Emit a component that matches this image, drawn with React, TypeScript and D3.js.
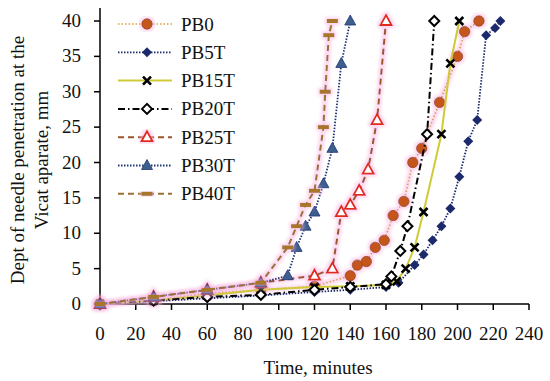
import { useEffect, useRef } from 'react';
import * as d3 from 'd3';

// time (minutes) and needle penetration depth (mm) per mix
const pb0Time = [0, 30, 60, 90, 120, 140, 144, 149, 154, 159, 164, 170, 175, 180, 190, 200, 204, 212];
const pb0Depth = [0, 0.5, 1.5, 2, 2.5, 4, 5.5, 6, 8, 9, 12.5, 14.5, 20, 22, 28.5, 35, 38.5, 40];

const pb5tTime = [0, 30, 60, 90, 120, 140, 160, 167, 176, 181, 186, 191, 196, 201, 206, 211, 216, 221, 224];
const pb5tDepth = [0, 0.4, 0.8, 1.2, 1.7, 2, 2.4, 3, 5.5, 7, 9, 11, 13.5, 18, 23, 26, 38, 39, 40];

const pb15tTime = [0, 30, 60, 90, 120, 140, 160, 166, 171, 176, 181, 191, 196, 201];
const pb15tDepth = [0, 0.5, 1.2, 2, 2.4, 2.5, 2.7, 3.2, 5, 8, 13, 24, 34, 40];

const pb20tTime = [0, 30, 60, 90, 120, 140, 160, 163, 168, 172, 183, 187];
const pb20tDepth = [0, 0.5, 1, 1.3, 2, 2.4, 2.8, 3.9, 7.5, 11, 24, 40];

const pb25tTime = [0, 30, 60, 90, 120, 130, 135, 140, 145, 150, 155, 160];
const pb25tDepth = [0, 1, 2, 3, 4, 5, 13, 14, 16, 19, 26, 40];

const pb30tTime = [0, 30, 60, 90, 105, 110, 115, 120, 125, 130, 135, 140];
const pb30tDepth = [0, 1, 2, 3, 4, 8, 11, 13, 17, 22, 34, 40];

const pb40tTime = [0, 30, 60, 90, 105, 110, 115, 120, 125, 126, 128, 130];
const pb40tDepth = [0, 1, 2, 3, 8, 11, 14, 16, 25, 30, 38, 40];

const xTicks = [0, 20, 40, 60, 80, 100, 120, 140, 160, 180, 200, 220, 240];
const yTicks = [0, 5, 10, 15, 20, 25, 30, 35, 40];

type Marker = 'circle' | 'diamond' | 'x' | 'hollowDiamond' | 'hollowTriangle' | 'triangle' | 'dash';

interface Series {
  name: string;
  time: number[];
  depth: number[];
  color: string;
  dash: string;
  width: number;
  marker: Marker;
  glow: boolean;
}

const series: Series[] = [
  { name: 'PB0', time: pb0Time, depth: pb0Depth, color: '#dca03c', dash: '1.5,2', width: 1.6, marker: 'circle', glow: true },
  { name: 'PB5T', time: pb5tTime, depth: pb5tDepth, color: '#1c2a6c', dash: '1.5,1.5', width: 1.8, marker: 'diamond', glow: false },
  { name: 'PB15T', time: pb15tTime, depth: pb15tDepth, color: '#cfcb38', dash: '', width: 2, marker: 'x', glow: false },
  { name: 'PB20T', time: pb20tTime, depth: pb20tDepth, color: '#000000', dash: '7,3,1.5,3', width: 2, marker: 'hollowDiamond', glow: false },
  { name: 'PB25T', time: pb25tTime, depth: pb25tDepth, color: '#9c5528', dash: '6,4', width: 2, marker: 'hollowTriangle', glow: true },
  { name: 'PB30T', time: pb30tTime, depth: pb30tDepth, color: '#1f3474', dash: '1.5,1.5', width: 1.8, marker: 'triangle', glow: false },
  { name: 'PB40T', time: pb40tTime, depth: pb40tDepth, color: '#9a7230', dash: '6,4', width: 2, marker: 'dash', glow: true },
];

const FONT = '"Liberation Serif", serif';

function drawMarker(g: d3.Selection<SVGGElement, unknown, null, undefined>, kind: Marker, x: number, y: number) {
  if (kind === 'circle') {
    g.append('circle').attr('cx', x).attr('cy', y).attr('r', 5.2)
      .attr('fill', '#c4571c').attr('stroke', '#9a3f12').attr('stroke-width', 0.8);
  } else if (kind === 'diamond') {
    g.append('path').attr('d', `M${x},${y - 5}L${x + 5},${y}L${x},${y + 5}L${x - 5},${y}Z`)
      .attr('fill', '#1c2a6c');
  } else if (kind === 'hollowDiamond') {
    g.append('path').attr('d', `M${x},${y - 5}L${x + 5},${y}L${x},${y + 5}L${x - 5},${y}Z`)
      .attr('fill', '#fff').attr('stroke', '#000').attr('stroke-width', 2);
  } else if (kind === 'x') {
    g.append('path').attr('d', `M${x - 4},${y - 4}L${x + 4},${y + 4}M${x + 4},${y - 4}L${x - 4},${y + 4}`)
      .attr('stroke', '#000').attr('stroke-width', 2.6);
  } else if (kind === 'hollowTriangle') {
    g.append('path').attr('d', `M${x},${y - 6}L${x + 5.5},${y + 4}L${x - 5.5},${y + 4}Z`)
      .attr('fill', '#fff').attr('stroke', '#e02a1e').attr('stroke-width', 1.8);
  } else if (kind === 'triangle') {
    g.append('path').attr('d', `M${x},${y - 6}L${x + 5.5},${y + 4}L${x - 5.5},${y + 4}Z`)
      .attr('fill', '#3d5f8e').attr('stroke', '#1f3474').attr('stroke-width', 0.8);
  } else {
    g.append('rect').attr('x', x - 5.5).attr('y', y - 2).attr('width', 11).attr('height', 4)
      .attr('fill', '#a8762c');
  }
}

export default function App() {
  const svgRef = useRef<SVGSVGElement>(null);

  useEffect(() => {
    if (!svgRef.current) return;
    const svg = d3.select(svgRef.current);
    svg.selectAll('*').remove();

    const x = d3.scaleLinear().domain([0, 240]).range([100, 529]);
    const y = d3.scaleLinear().domain([0, 40]).range([304, 21]);

    // soft pink halo seen round some series in the source image
    const defs = svg.append('defs');
    const glow = defs.append('filter').attr('id', 'glow')
      .attr('x', '-20%').attr('y', '-20%').attr('width', '140%').attr('height', '140%');
    glow.append('feMorphology').attr('in', 'SourceAlpha').attr('operator', 'dilate').attr('radius', 1.5).attr('result', 'thick');
    glow.append('feGaussianBlur').attr('in', 'thick').attr('stdDeviation', 1.5).attr('result', 'blur');
    glow.append('feFlood').attr('flood-color', '#f7b0de').attr('flood-opacity', 0.5);
    glow.append('feComposite').attr('in2', 'blur').attr('operator', 'in').attr('result', 'pink');
    const merge = glow.append('feMerge');
    merge.append('feMergeNode').attr('in', 'pink');
    merge.append('feMergeNode').attr('in', 'SourceGraphic');

    svg.append('rect').attr('width', 550).attr('height', 381).attr('fill', '#fff');

    // axes
    const axis = svg.append('g').attr('stroke', '#000').attr('stroke-width', 1.5);
    axis.append('line').attr('x1', 97).attr('x2', x(240)).attr('y1', y(0)).attr('y2', y(0));
    axis.append('line').attr('x1', x(0)).attr('x2', x(0)).attr('y1', 8).attr('y2', y(0));
    xTicks.forEach(t => {
      axis.append('line').attr('x1', x(t)).attr('x2', x(t)).attr('y1', y(0)).attr('y2', y(0) + 6);
    });
    yTicks.forEach(t => {
      axis.append('line').attr('x1', x(0) - 6).attr('x2', x(0)).attr('y1', y(t)).attr('y2', y(t));
    });

    const labels = svg.append('g').attr('font-family', FONT).attr('font-size', 19).attr('fill', '#111');
    xTicks.forEach(t => {
      labels.append('text').attr('x', x(t)).attr('y', 340).attr('text-anchor', 'middle').text(t);
    });
    yTicks.forEach(t => {
      labels.append('text').attr('x', 81).attr('y', y(t) + 6).attr('text-anchor', 'end').text(t);
    });
    labels.append('text').attr('x', 318).attr('y', 374).attr('text-anchor', 'middle').text('Time, minutes');
    const yl = labels.append('text').attr('transform', 'translate(0,160) rotate(-90)').attr('text-anchor', 'middle');
    yl.append('tspan').attr('x', 0).attr('y', 24).text('Dept of needle penetration at the');
    yl.append('tspan').attr('x', 0).attr('y', 48).text('Vicat aparate, mm');

    // series
    const line = d3.line<[number, number]>().x(d => x(d[0])).y(d => y(d[1]));
    series.forEach(s => {
      const g = svg.append('g');
      if (s.glow) g.attr('filter', 'url(#glow)');
      const pts = s.time.map((t, i) => [t, s.depth[i]] as [number, number]);
      g.append('path').attr('d', line(pts)).attr('fill', 'none')
        .attr('stroke', s.color).attr('stroke-width', s.width)
        .attr('stroke-dasharray', s.dash || null);
      pts.forEach(p => drawMarker(g, s.marker, x(p[0]), y(p[1])));
    });

    // legend
    const legend = svg.append('g');
    series.forEach((s, i) => {
      const ly = 24 + i * 28.3;
      legend.append('line').attr('x1', 118).attr('x2', 172).attr('y1', ly).attr('y2', ly)
        .attr('stroke', s.color).attr('stroke-width', s.width)
        .attr('stroke-dasharray', s.dash || null);
      const m = legend.append('g');
      if (s.glow) m.attr('filter', 'url(#glow)');
      drawMarker(m, s.marker, 147, ly);
      legend.append('text').attr('x', 181).attr('y', ly + 6.5)
        .attr('font-family', FONT).attr('font-size', 19).attr('fill', '#111').text(s.name);
    });
  }, []);

  return (
    <svg
      ref={svgRef}
      width={550}
      height={381}
      style={{ position: 'absolute', left: 0, top: 0 }}
    />
  );
}
